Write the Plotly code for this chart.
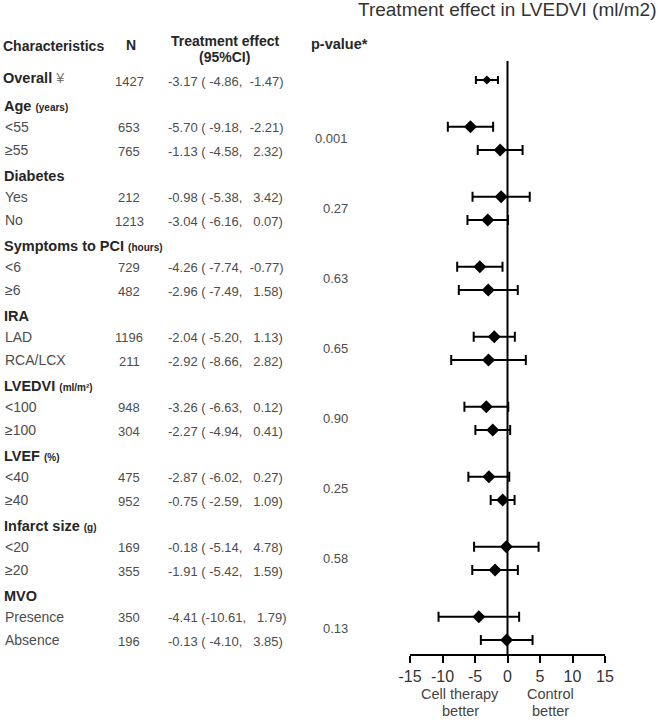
import plotly.graph_objects as go

# ---------------- data ----------------
group_names = ["Overall", "Age", "Diabetes", "Symptoms to PCI", "IRA", "LVEDVI", "LVEF", "Infarct size", "MVO"]
group_units = ["", "(years)", "", "(hours)", "", "(ml/m\u00b2)", "(%)", "(g)", ""]
group_sizes = [1, 2, 2, 2, 2, 2, 2, 2, 2]
p_values = ["", "0.001", "0.27", "0.63", "0.65", "0.90", "0.25", "0.58", "0.13"]

sub_labels = ["Overall", "<55", "\u226555", "Yes", "No", "<6", "\u22656", "LAD", "RCA/LCX",
              "<100", "\u2265100", "<40", "\u226540", "<20", "\u226520", "Presence", "Absence"]
n_values = [1427, 653, 765, 212, 1213, 729, 482, 1196, 211, 948, 304, 475, 952, 169, 355, 350, 196]
est = [-3.17, -5.70, -1.13, -0.98, -3.04, -4.26, -2.96, -2.04, -2.92, -3.26, -2.27, -2.87, -0.75, -0.18, -1.91, -4.41, -0.13]
lo = [-4.86, -9.18, -4.58, -5.38, -6.16, -7.74, -7.49, -5.20, -8.66, -6.63, -4.94, -6.02, -2.59, -5.14, -5.42, -10.61, -4.10]
hi = [-1.47, -2.21, 2.32, 3.42, 0.07, -0.77, 1.58, 1.13, 2.82, 0.12, 0.41, 0.27, 1.09, 4.78, 1.59, 1.79, 3.85]

x_tick_vals = [-15, -10, -5, 0, 5, 10, 15]
x_tick_labels = ["-15", "-10", "-5", "0", "5", "10", "15"]

# ---------------- layout helpers ----------------
W, H = 658, 720
NB = "\u00a0"
FONT = "Liberation Sans, Arial, sans-serif"
GRAY = "#4d4d4d"
DARK = "#262626"

def px(xp):
    return xp / W

def py(yp):
    return 1 - yp / H

# slot index for each row (group header + sub rows)
row_slot = []
header_slot = []
pval_slot = []
slot = 0
for gi, size in enumerate(group_sizes):
    if gi == 0:
        header_slot.append(None)
        row_slot.append(slot)
        pval_slot.append(None)
        slot += 1
    else:
        header_slot.append(slot)
        slot += 1
        first = slot
        for _ in range(size):
            row_slot.append(slot)
            slot += 1
        pval_slot.append((first + slot - 1) / 2)

# y axis mapping: slot 0 -> pixel 80, slot 24 -> pixel 640
step = (640 - 80) / 24
y_top = -80 / step
y_bot = (H - 80) / step

def fmt(v):
    return f"{v:.2f}"

def ci_text(e, l, h):
    ls = fmt(l)
    if len(ls) < 6:
        ls = NB + ls
    hs = fmt(h)
    hs = NB * 3 + hs if h >= 0 else NB * 2 + hs
    return f"{fmt(e)} ({ls},{hs})"

fig = go.Figure()

# subgroup markers
fig.add_trace(go.Scatter(
    x=est[1:], y=row_slot[1:], mode="markers",
    marker=dict(symbol="diamond", size=10, color="black"),
    error_x=dict(type="data", symmetric=False,
                 array=[h - e for h, e in zip(hi[1:], est[1:])],
                 arrayminus=[e - l for e, l in zip(est[1:], lo[1:])],
                 color="black", thickness=2, width=5),
    hoverinfo="skip", showlegend=False))

# overall marker
fig.add_trace(go.Scatter(
    x=est[:1], y=row_slot[:1], mode="markers",
    marker=dict(symbol="diamond", size=7, color="black"),
    error_x=dict(type="data", symmetric=False,
                 array=[hi[0] - est[0]], arrayminus=[est[0] - lo[0]],
                 color="black", thickness=2, width=4),
    hoverinfo="skip", showlegend=False))

ann = []

def add(text, x, y, size, color=GRAY, xanchor="left", yref="y", yshift=0):
    ann.append(dict(text=text, x=x, y=y, xref="paper", yref=yref, xanchor=xanchor,
                    yanchor="middle", showarrow=False, yshift=yshift, borderpad=0,
                    font=dict(family=FONT, size=size, color=color)))

# title
add("Treatment effect in LVEDVI (ml/m2)", px(657), py(10), 19, color="#333333",
    xanchor="right", yref="paper")

# column headers
add("<b>Characteristics</b>", px(2), py(46), 14, color=DARK, yref="paper")
add("<b>N</b>", px(131), py(45), 14, color=DARK, xanchor="center", yref="paper")
add("<b>Treatment effect</b>", px(225), py(41), 14, color=DARK, xanchor="center", yref="paper")
add("<b>(95%CI)</b>", px(225), py(57), 14, color=DARK, xanchor="center", yref="paper")
add("<b>p-value*</b>", px(339), py(44), 14.5, color=DARK, xanchor="center", yref="paper")

# group headers
for gi, name in enumerate(group_names):
    if gi == 0:
        add(f"<b>{name}</b> <span style='color:#777'>\u00a5</span>", px(2), row_slot[0], 14.5,
            color=DARK, yshift=2)
        continue
    unit = group_units[gi]
    t = f"<b>{name}</b>"
    if unit:
        t += f" <span style='font-size:10px'><b>{unit}</b></span>"
    add(t, px(3), header_slot[gi], 14.5, color=DARK, yshift=-3)
    if p_values[gi]:
        add(p_values[gi], px(349), pval_slot[gi], 13, xanchor="right")

# row text
for i in range(len(sub_labels)):
    if i > 0:
        add(sub_labels[i], px(4), row_slot[i], 14)
    add(str(n_values[i]), px(129), row_slot[i], 13, xanchor="center", yshift=-1)
    add(ci_text(est[i], lo[i], hi[i]), px(167), row_slot[i], 13, yshift=-1)

# bottom labels
add("Cell therapy", px(460), py(694), 14.5, color="#444444", xanchor="center", yref="paper")
add("better", px(460), py(711), 14.5, color="#444444", xanchor="center", yref="paper")
add("Control", px(550), py(694), 14.5, color="#444444", xanchor="center", yref="paper")
add("better", px(550), py(711), 14.5, color="#444444", xanchor="center", yref="paper")

fig.update_layout(
    width=W, height=H,
    margin=dict(l=0, r=0, t=0, b=0, pad=0),
    paper_bgcolor="white", plot_bgcolor="white",
    annotations=ann,
    xaxis=dict(domain=[px(410), px(605)], range=[-15, 15], tickvals=x_tick_vals,
               ticktext=x_tick_labels, ticks="outside", ticklen=7, tickwidth=2,
               tickcolor="black", showline=True, linewidth=2, linecolor="black",
               anchor="free", position=py(655), showgrid=False, zeroline=False,
               automargin=False,
               tickfont=dict(family=FONT, size=16, color="#333333"), fixedrange=True),
    yaxis=dict(domain=[0, 1], range=[y_bot, y_top], visible=False, showgrid=False,
               zeroline=False, fixedrange=True, automargin=False),
    shapes=[dict(type="line", xref="x", yref="paper", x0=0, x1=0,
                 y0=py(655), y1=py(61), line=dict(color="black", width=2))],
)

fig.write_html("out.html", config={"displayModeBar": False},
               post_script="document.body.style.margin='0px';")
